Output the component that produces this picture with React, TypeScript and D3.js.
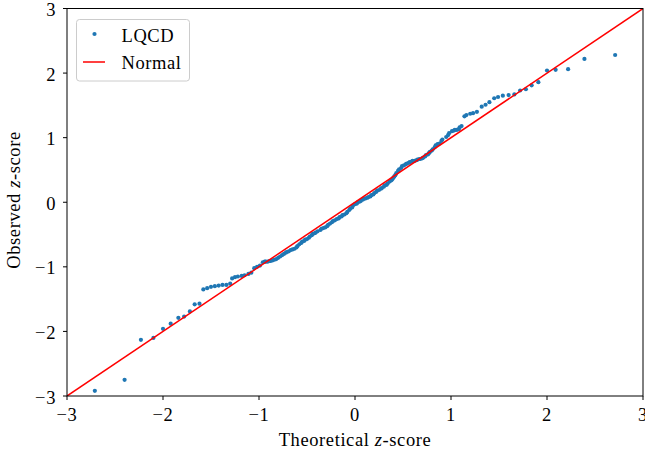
import React from "react";
import * as d3 from "d3";

const theoretical = [
  -2.71, -2.4, -2.23, -2.1, -2.0, -1.92, -1.84, -1.78, -1.72, -1.67, -1.62,
  -1.58, -1.54, -1.5, -1.46, -1.42, -1.38, -1.34, -1.3, -1.28, -1.25, -1.22,
  -1.18, -1.15, -1.11, -1.08, -1.05, -1.02, -0.99, -0.96, -0.94, -0.93, -0.91,
  -0.89, -0.88, -0.86, -0.84, -0.82, -0.8, -0.78, -0.76, -0.74, -0.72, -0.71,
  -0.69, -0.67, -0.65, -0.63, -0.61, -0.6, -0.58,
  -0.56, -0.55, -0.53, -0.52, -0.5, -0.48, -0.47, -0.45, -0.44, -0.42, -0.41,
  -0.39, -0.36, -0.35, -0.33, -0.31, -0.29, -0.28, -0.26, -0.24, -0.23, -0.21,
  -0.19, -0.17, -0.16, -0.14, -0.13, -0.11, -0.09, -0.08, -0.06, -0.05, -0.03,
  -0.02, 0.0, 0.02, 0.03, 0.05, 0.06, 0.08, 0.09, 0.11, 0.13, 0.14, 0.16, 0.17,
  0.19, 0.2, 0.22, 0.23, 0.25, 0.27, 0.28, 0.3, 0.31, 0.33, 0.34, 0.36, 0.38,
  0.39, 0.4, 0.41, 0.42, 0.43, 0.45, 0.46, 0.48, 0.49, 0.51, 0.53, 0.54, 0.56,
  0.57, 0.59, 0.6, 0.62, 0.64, 0.65, 0.67, 0.68, 0.7, 0.71, 0.73, 0.74, 0.76,
  0.77, 0.78, 0.8, 0.81, 0.83, 0.84, 0.86, 0.88, 0.9, 0.91,
  0.95, 0.97, 0.98, 1.01, 1.03, 1.04, 1.06, 1.08, 1.09, 1.11, 1.14, 1.16, 1.2,
  1.23, 1.27, 1.32, 1.36, 1.4, 1.45, 1.49, 1.54, 1.6, 1.66, 1.72, 1.78, 1.84,
  1.91, 2.0, 2.09, 2.22, 2.39, 2.71,
];

const observed = [
  -2.92, -2.75, -2.13, -2.1, -1.96, -1.88, -1.79, -1.77, -1.69, -1.58, -1.57,
  -1.35, -1.33, -1.31, -1.3, -1.29, -1.28, -1.28, -1.26, -1.18, -1.16, -1.15,
  -1.14, -1.13, -1.11, -1.09, -1.02, -1.0, -0.98, -0.93, -0.92, -0.92, -0.92,
  -0.91, -0.91, -0.9, -0.89, -0.88, -0.86, -0.84, -0.82, -0.8, -0.78, -0.77,
  -0.76, -0.74, -0.73, -0.72, -0.7, -0.68, -0.65,
  -0.63, -0.61, -0.6, -0.58, -0.57, -0.55, -0.53, -0.51, -0.49, -0.48, -0.47,
  -0.45, -0.43, -0.41, -0.4, -0.39, -0.37, -0.35, -0.33, -0.31, -0.29, -0.28,
  -0.26, -0.25, -0.23, -0.22, -0.2, -0.19, -0.17, -0.15, -0.12, -0.1, -0.08,
  -0.05, -0.03, -0.02, 0.0, 0.01, 0.02, 0.04, 0.05, 0.06, 0.07, 0.08, 0.09,
  0.11, 0.12, 0.14, 0.16, 0.18, 0.19, 0.21, 0.22, 0.24, 0.26, 0.27, 0.29, 0.32,
  0.34, 0.36, 0.38, 0.4, 0.42, 0.45, 0.49, 0.51, 0.53, 0.56, 0.57, 0.59, 0.6,
  0.61, 0.62, 0.63, 0.64, 0.64, 0.65, 0.66, 0.67, 0.67, 0.68, 0.69, 0.71, 0.73,
  0.74, 0.76, 0.78, 0.8, 0.82, 0.85, 0.88, 0.9, 0.91, 0.95, 0.97,
  1.01, 1.04, 1.07, 1.1, 1.11, 1.12, 1.12, 1.13, 1.16, 1.18, 1.33, 1.35, 1.37,
  1.38, 1.4, 1.48, 1.51, 1.55, 1.61, 1.63, 1.65, 1.66, 1.67, 1.73, 1.75, 1.81,
  1.86, 2.04, 2.05, 2.06, 2.22, 2.28,
];

const tickValues = [-3, -2, -1, 0, 1, 2, 3];
const tickLabels = ["\u22123", "\u22122", "\u22121", "0", "1", "2", "3"];
const seriesNames = ["LQCD", "Normal"];
const domain = [-3, 3];

const W = 645;
const H = 455;
const FONT = "'Liberation Serif', 'DejaVu Serif', serif";
const FS = 18.5;
const LS = 0.6;
const BLUE = "#1f77b4";

export default function App() {
  const x = d3.scaleLinear().domain(domain).range([67, 643]);
  const y = d3.scaleLinear().domain(domain).range([396, 8.5]);
  const n = Math.min(theoretical.length, observed.length);
  const points = d3.range(n).map((i) => [theoretical[i], observed[i]]);
  const line = d3.line<number>().x((d) => x(d)).y((d) => y(d));

  return (
    <svg
      width={W}
      height={H}
      style={{ position: "absolute", left: 0, top: 0, background: "#fff" }}
      fontFamily={FONT}
    >
      <rect x={0} y={0} width={W} height={H} fill="#fff" />
      <defs>
        <clipPath id="plot">
          <rect x={67} y={8.5} width={576} height={387.5} />
        </clipPath>
      </defs>
      <g clipPath="url(#plot)">
        {points.map((p, i) => (
          <circle key={i} cx={x(p[0])} cy={y(p[1])} r={2.1} fill={BLUE} />
        ))}
        <path d={line(domain) || ""} stroke="#ff0000" strokeWidth={1.5} fill="none" />
      </g>
      <rect x={67} y={8.5} width={576} height={387.5} fill="none" stroke="#000" strokeWidth={1} />
      {tickValues.map((t, i) => (
        <g key={"x" + i}>
          <line x1={x(t)} x2={x(t)} y1={396} y2={400} stroke="#000" strokeWidth={1} />
          <text x={x(t)} y={420.5} textAnchor="middle" fontSize={FS} letterSpacing={LS}>
            {tickLabels[i]}
          </text>
        </g>
      ))}
      {tickValues.map((t, i) => (
        <g key={"y" + i}>
          <line x1={63} x2={67} y1={y(t)} y2={y(t)} stroke="#000" strokeWidth={1} />
          <text x={56} y={y(t) + 7.5} textAnchor="end" fontSize={FS} letterSpacing={LS}>
            {tickLabels[i]}
          </text>
        </g>
      ))}
      <text x={355} y={446} textAnchor="middle" fontSize={FS} letterSpacing={LS}>
        Theoretical <tspan fontStyle="italic">z</tspan>-score
      </text>
      <text transform={`translate(20,200) rotate(-90)`} textAnchor="middle" fontSize={FS} letterSpacing={LS}>
        Observed <tspan fontStyle="italic">z</tspan>-score
      </text>
      <rect x={76.5} y={19.5} width={113} height={61.5} rx={3} fill="#fff" fillOpacity={0.8} stroke="#cccccc" strokeWidth={1} />
      <circle cx={94.5} cy={34} r={2.1} fill={BLUE} />
      <line x1={83} x2={105} y1={62} y2={62} stroke="#ff0000" strokeWidth={1.5} />
      <text x={121.5} y={41.5} fontSize={FS} letterSpacing={LS}>{seriesNames[0]}</text>
      <text x={121.5} y={68.5} fontSize={FS} letterSpacing={LS}>{seriesNames[1]}</text>
    </svg>
  );
}
